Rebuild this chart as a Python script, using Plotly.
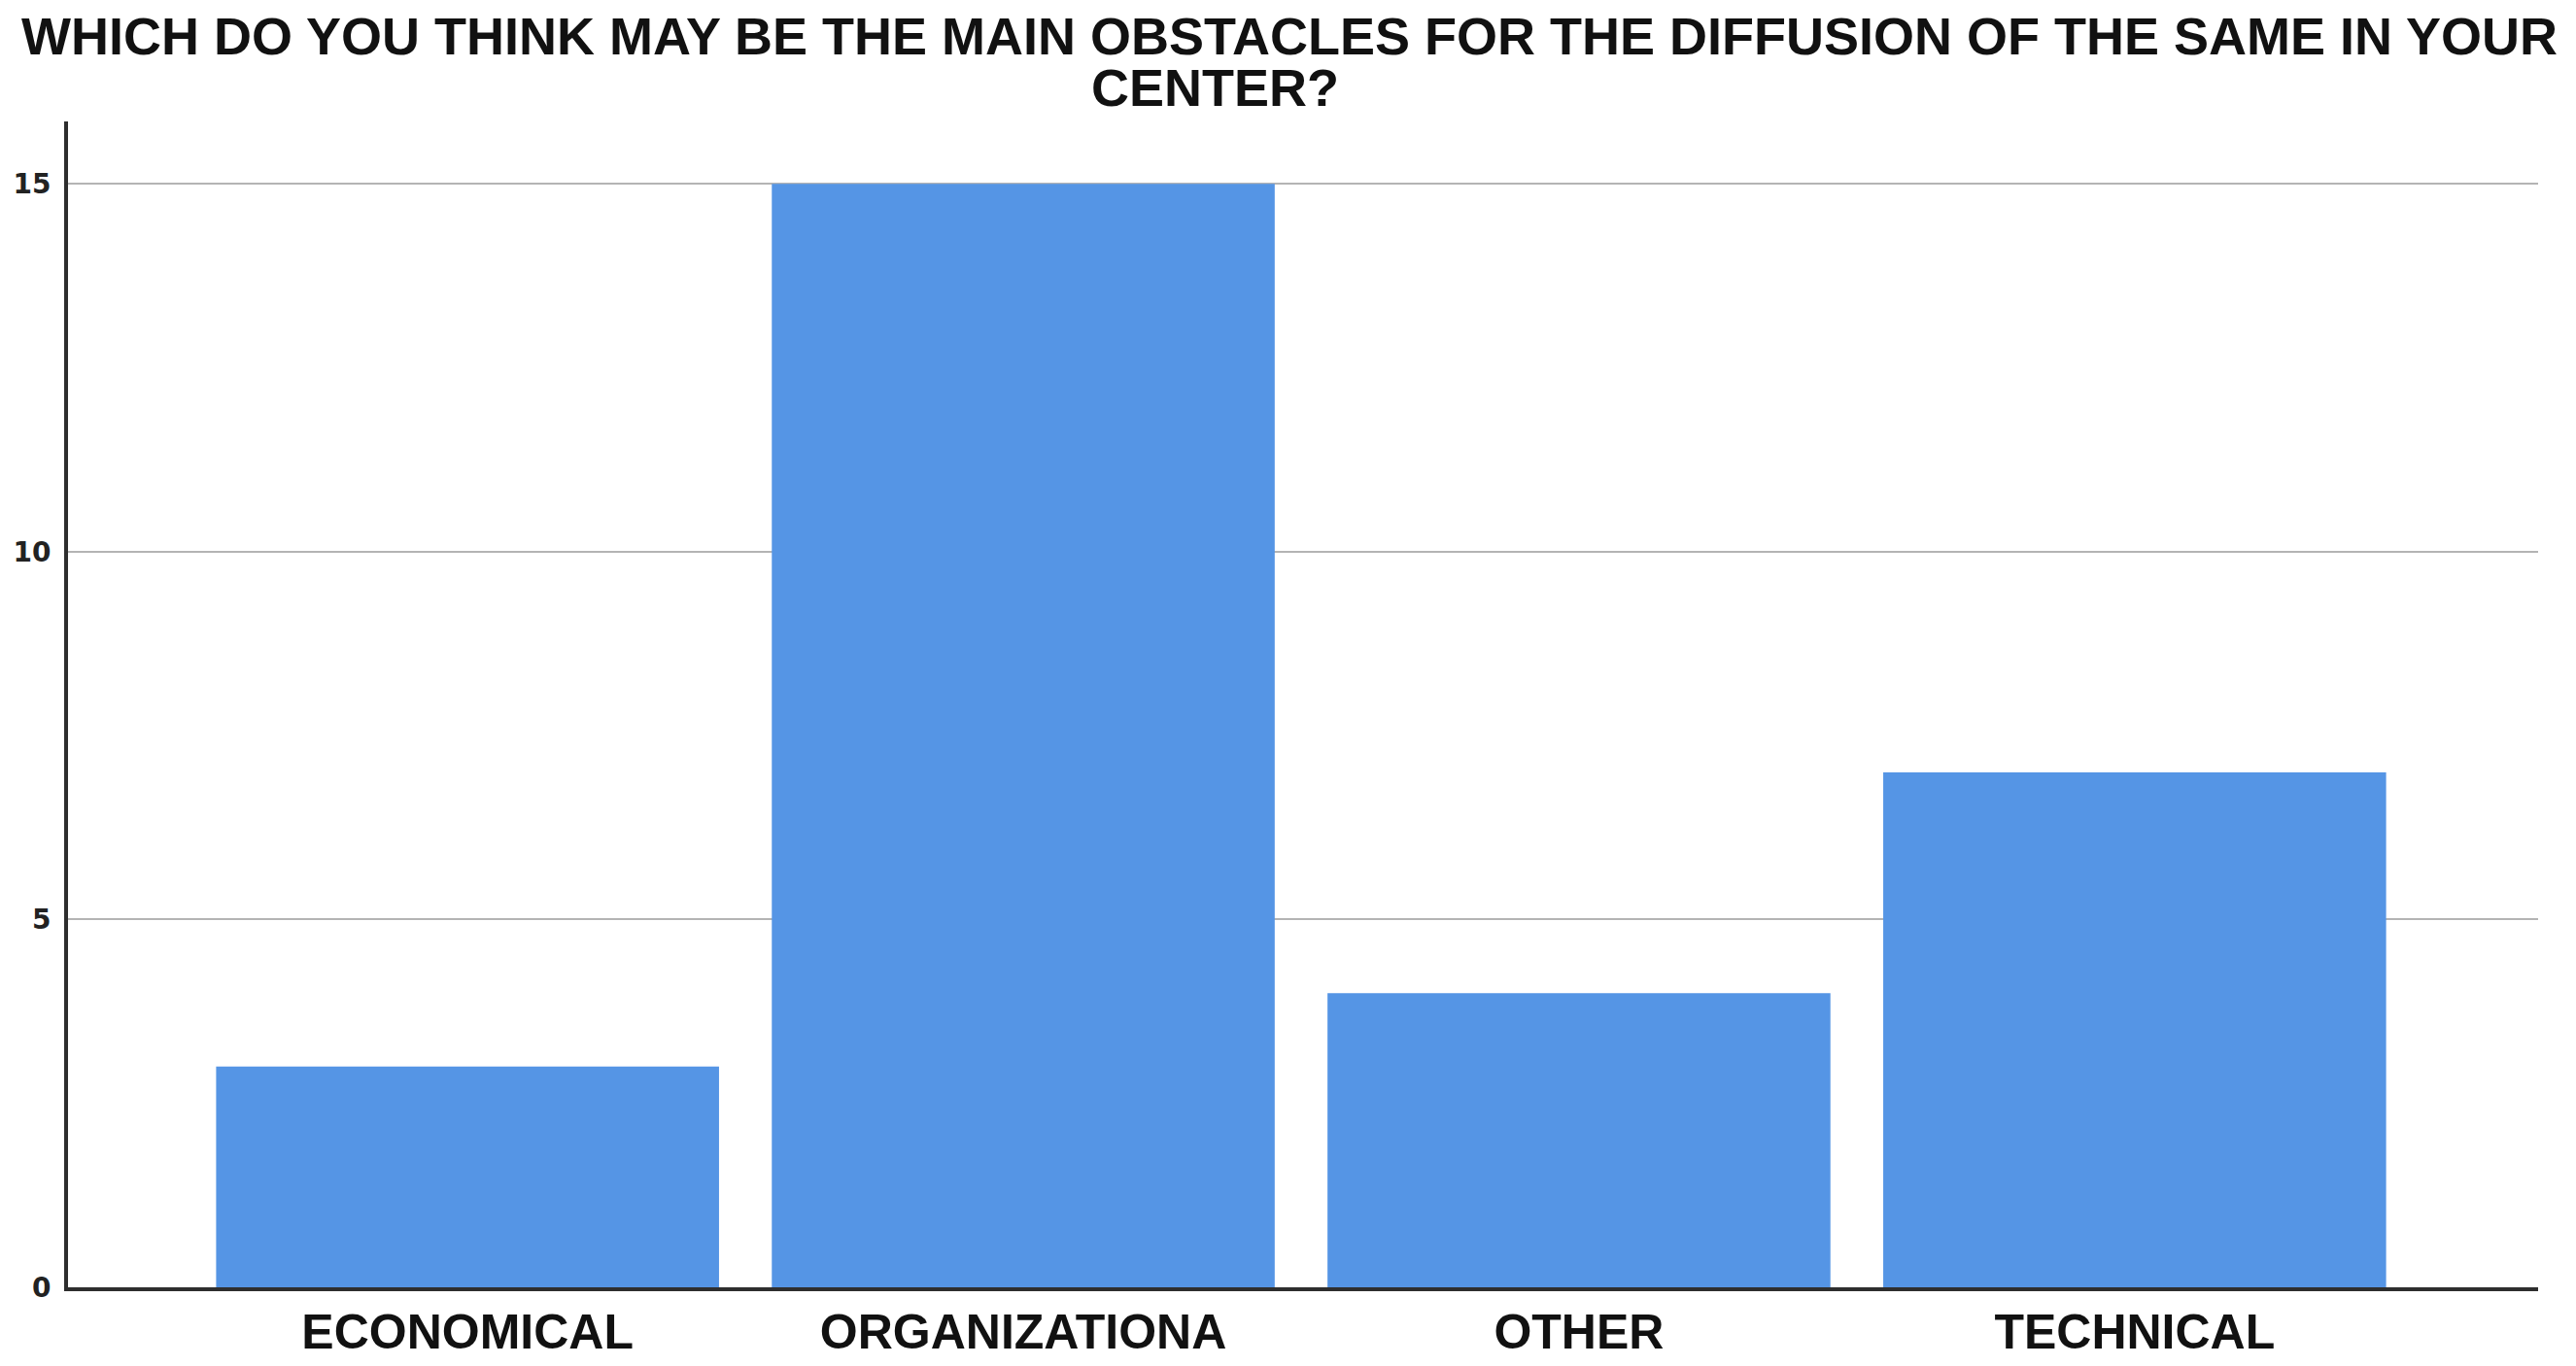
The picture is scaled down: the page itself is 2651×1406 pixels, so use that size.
import plotly.graph_objects as go

# --- DATA ---
CATEGORIES = ["ECONOMICAL", "ORGANIZATIONA", "OTHER", "TECHNICAL"]
COUNTS = [3, 15, 4, 7]
Y_TICKS = [0, 5, 10, 15]

TITLE_LINE_1 = "WHICH DO YOU THINK MAY BE THE MAIN OBSTACLES FOR THE DIFFUSION OF THE SAME IN YOUR"
TITLE_LINE_2 = "CENTER?"

BAR_COLOR = "#5595e5"
AXIS_COLOR = "#2e2e2e"
GRID_COLOR = "#b4b4b4"
LABEL_FONT = "Liberation Sans, Arial, sans-serif"

fig = go.Figure()

fig.add_trace(
    go.Bar(
        x=CATEGORIES,
        y=COUNTS,
        marker=dict(color=BAR_COLOR, line=dict(width=0)),
        showlegend=False,
    )
)

# Title is two separately centred lines (second one sits a bit left of centre)
title_font = dict(family=LABEL_FONT, size=54, color="#111111", weight="bold")
fig.add_annotation(
    text=TITLE_LINE_1, xref="paper", yref="paper",
    x=0.4943, y=1.073, xanchor="center", yanchor="middle", showarrow=False,
    height=46, borderpad=0, font=title_font,
)
fig.add_annotation(
    text=TITLE_LINE_2, xref="paper", yref="paper",
    x=0.4644, y=1.0295, xanchor="center", yanchor="middle", showarrow=False,
    height=46, borderpad=0, font=title_font,
)

fig.update_layout(
    width=2651,
    height=1406,
    paper_bgcolor="white",
    plot_bgcolor="white",
    bargap=0.095,
    margin=dict(l=70, r=39, t=125, b=81, autoexpand=False),
    xaxis=dict(
        type="category",
        range=[-0.719, 3.726],
        showline=True,
        linecolor=AXIS_COLOR,
        linewidth=4,
        showgrid=False,
        zeroline=False,
        ticks="",
        ticklabelstandoff=-1,
        tickfont=dict(family=LABEL_FONT, size=50, color="#111111", weight="bold"),
    ),
    yaxis=dict(
        range=[0, 15.85],
        tickvals=Y_TICKS,
        showline=True,
        linecolor=AXIS_COLOR,
        linewidth=4,
        showgrid=True,
        gridcolor=GRID_COLOR,
        gridwidth=2,
        zeroline=False,
        ticks="",
        ticklabelstandoff=8,
        tickfont=dict(family="DejaVu Sans, sans-serif", size=28, color="#222222", weight="bold"),
    ),
)

# drop the default page margin so the figure fills the window exactly
fig.write_html(
    "out.html",
    config={"displayModeBar": False},
    post_script="document.body.style.margin='0';",
)
